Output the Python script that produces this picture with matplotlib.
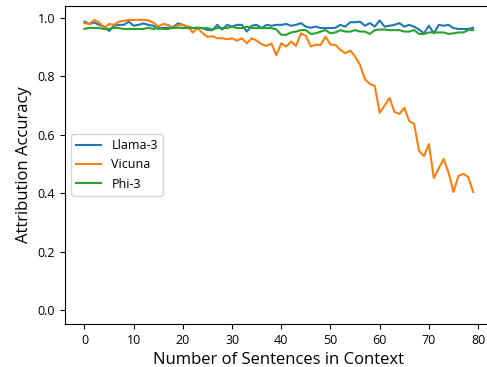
import numpy as np
import matplotlib.pyplot as plt

plt.rcParams['font.family'] = ['Open Sans', 'DejaVu Sans']

# nombre de phrases dans le contexte
n_sentences = np.arange(80)

llama3 = [0.987, 0.979, 0.984, 0.976, 0.970, 0.955, 0.973, 0.976, 0.976, 0.987,
          0.973, 0.976, 0.981, 0.976, 0.973, 0.962, 0.966, 0.966, 0.968, 0.981,
          0.976, 0.970, 0.965, 0.966, 0.965, 0.958, 0.958, 0.976, 0.960, 0.976,
          0.970, 0.976, 0.976, 0.953, 0.973, 0.976, 0.965, 0.976, 0.973, 0.976,
          0.976, 0.979, 0.973, 0.976, 0.982, 0.970, 0.966, 0.970, 0.965, 0.965,
          0.965, 0.966, 0.976, 0.970, 0.985, 0.985, 0.987, 0.973, 0.982, 0.970,
          0.991, 0.970, 0.973, 0.976, 0.982, 0.970, 0.976, 0.970, 0.960, 0.947,
          0.973, 0.947, 0.976, 0.973, 0.976, 0.965, 0.962, 0.962, 0.962, 0.966]

vicuna = [0.982, 0.979, 0.993, 0.984, 0.965, 0.979, 0.976, 0.987, 0.990, 0.993,
          0.993, 0.993, 0.993, 0.991, 0.984, 0.970, 0.979, 0.976, 0.965, 0.975,
          0.975, 0.970, 0.950, 0.965, 0.948, 0.935, 0.937, 0.930, 0.930, 0.927,
          0.930, 0.922, 0.930, 0.913, 0.930, 0.922, 0.910, 0.904, 0.912, 0.872,
          0.913, 0.902, 0.919, 0.904, 0.947, 0.938, 0.902, 0.908, 0.907, 0.936,
          0.908, 0.908, 0.890, 0.879, 0.888, 0.868, 0.839, 0.790, 0.774, 0.767,
          0.675, 0.700, 0.726, 0.678, 0.671, 0.692, 0.647, 0.637, 0.545, 0.527,
          0.568, 0.452, 0.485, 0.517, 0.470, 0.404, 0.459, 0.466, 0.455, 0.404]

phi3 = [0.962, 0.966, 0.965, 0.965, 0.962, 0.962, 0.966, 0.965, 0.962, 0.962,
        0.962, 0.962, 0.962, 0.966, 0.962, 0.966, 0.962, 0.962, 0.966, 0.966,
        0.965, 0.965, 0.965, 0.966, 0.965, 0.965, 0.960, 0.965, 0.965, 0.965,
        0.970, 0.965, 0.965, 0.970, 0.965, 0.965, 0.965, 0.965, 0.965, 0.960,
        0.942, 0.942, 0.950, 0.953, 0.958, 0.958, 0.945, 0.947, 0.953, 0.958,
        0.947, 0.950, 0.958, 0.953, 0.953, 0.958, 0.953, 0.953, 0.945, 0.958,
        0.960, 0.960, 0.958, 0.958, 0.958, 0.953, 0.953, 0.958, 0.945, 0.945,
        0.950, 0.950, 0.950, 0.950, 0.945, 0.947, 0.950, 0.950, 0.958, 0.958]

fig = plt.figure(figsize=(4.87, 3.67), dpi=100)
ax = fig.add_axes([0.1335, 0.117, 0.878, 0.867])

ax.plot(n_sentences, llama3, color='#1f77b4', lw=1.5, label='Llama-3')
ax.plot(n_sentences, vicuna, color='#ff7f0e', lw=1.5, label='Vicuna')
ax.plot(n_sentences, phi3, color='#2ca02c', lw=1.5, label='Phi-3')

ax.set_xlim(-3.95, 82.95)
ax.set_ylim(-0.048, 1.041)
ax.set_xticks(np.arange(0, 81, 10))
ax.set_yticks(np.arange(0, 1.01, 0.2))
ax.tick_params(labelsize=9)

ax.set_xlabel("Number of Sentences in Context", fontsize=12)
ax.set_ylabel("Attribution Accuracy", fontsize=12)
ax.legend(loc='center left', fontsize=9)

fig.savefig("out.png", dpi=100)
